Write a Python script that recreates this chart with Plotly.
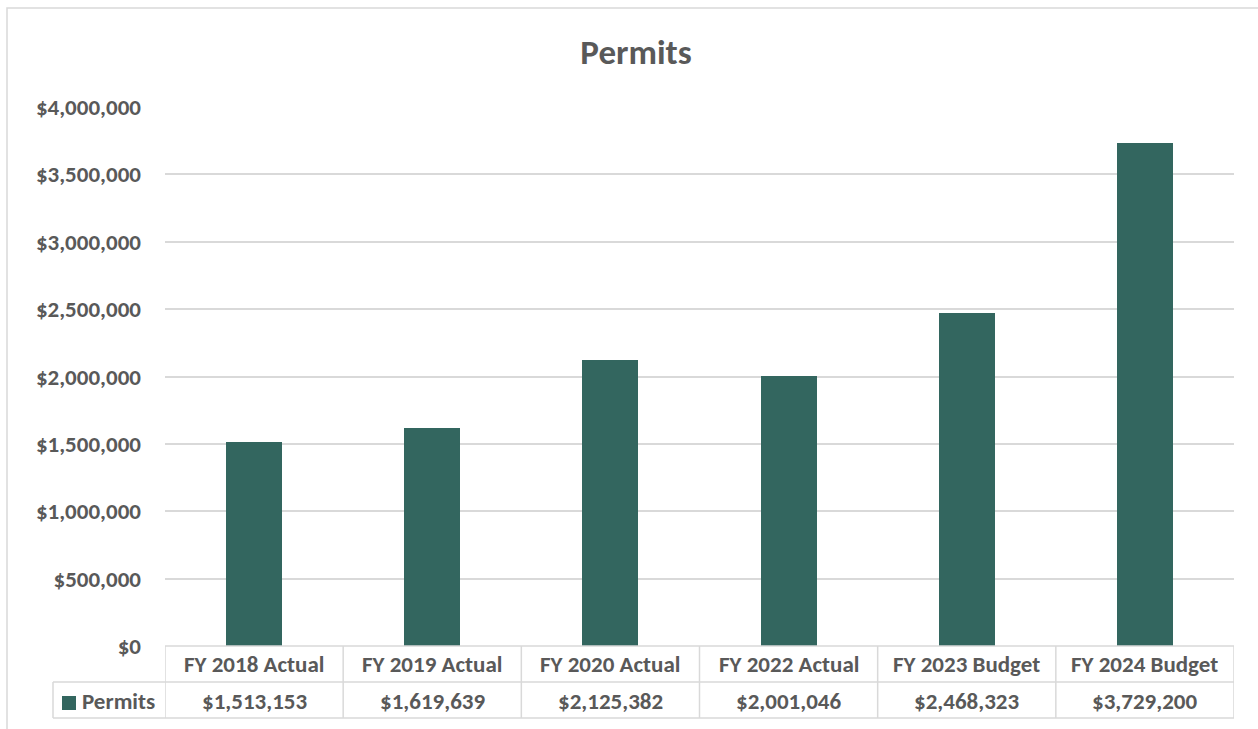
import plotly.graph_objects as go

categories = ["FY 2018 Actual", "FY 2019 Actual", "FY 2020 Actual", "FY 2022 Actual", "FY 2023 Budget", "FY 2024 Budget"]
permits = [1513153, 1619639, 2125382, 2001046, 2468323, 3729200]
series_name = "Permits"
tick_vals = [0, 500000, 1000000, 1500000, 2000000, 2500000, 3000000, 3500000, 4000000]
tick_text = ["$0", "$500,000", "$1,000,000", "$1,500,000", "$2,000,000", "$2,500,000", "$3,000,000", "$3,500,000", "$4,000,000"]

W, H = 1258, 729
BAR = "#33665F"
TXT = "#595959"
GRID = "#D9D9D9"
FONT = "Carlito, Calibri, Lato, sans-serif"
FS = 23

def px(x):
    return x / W

def py(y):
    return 1 - y / H

x0, x1 = 165, 1234
y_top, y_zero = 107, 646

fig = go.Figure()
fig.add_trace(go.Bar(
    x=list(range(len(categories))), y=permits, name=series_name,
    marker=dict(color=BAR, line=dict(width=0)), width=0.315, showlegend=False,
    hoverinfo="skip"))

n = len(categories)
fig.update_layout(
    width=W, height=H, margin=dict(l=0, r=0, t=0, b=0, pad=0),
    paper_bgcolor="white", plot_bgcolor="white", showlegend=False,
    font=dict(family=FONT, color=TXT),
    xaxis=dict(domain=[px(x0), px(x1)], range=[-0.5, n - 0.5], showticklabels=False,
               showgrid=False, zeroline=False, showline=False, fixedrange=True, automargin=False),
    yaxis=dict(domain=[py(y_zero), py(y_top)], range=[0, 4000000], tickvals=tick_vals,
               ticktext=[f"<b>{t}</b>" for t in tick_text], showgrid=True, gridcolor=GRID, gridwidth=1.5,
               zeroline=False, showline=False, ticks="", ticklabelstandoff=23, automargin=False,
               tickfont=dict(family=FONT, size=FS, color=TXT)),
    title=dict(text="<b>Permits</b>", x=px(636), xanchor="center", y=py(52), yanchor="middle",
               automargin=False, font=dict(family=FONT, size=35, color=TXT)),
    bargap=0,
)

shapes = []
line = dict(color=GRID, width=1.5)
# outer chart border
shapes.append(dict(type="rect", xref="paper", yref="paper", x0=px(7), x1=1.02, y0=-0.02, y1=py(8),
                   line=dict(color=GRID, width=1.5), layer="below"))
# table horizontal lines
shapes.append(dict(type="line", xref="paper", yref="paper", x0=px(x0), x1=px(x1), y0=py(646), y1=py(646), line=line))
for yy in (682, 718):
    shapes.append(dict(type="line", xref="paper", yref="paper", x0=px(53), x1=px(x1), y0=py(yy), y1=py(yy), line=line))
# left legend cell vertical
shapes.append(dict(type="line", xref="paper", yref="paper", x0=px(53), x1=px(53), y0=py(682), y1=py(718), line=line))
# category boundaries
for i in range(n + 1):
    shapes.append(dict(type="line", xref="x", yref="paper", x0=i - 0.5, x1=i - 0.5, y0=py(646), y1=py(718), line=line))
# legend swatch
shapes.append(dict(type="rect", xref="paper", yref="paper", x0=px(62), x1=px(76), y0=py(710), y1=py(696),
                   fillcolor=BAR, line=dict(width=0)))
fig.update_layout(shapes=shapes)

ann = []
for i, (c, v) in enumerate(zip(categories, permits)):
    ann.append(dict(x=i, y=py(664), xref="x", yref="paper", text=f"<b>{c}</b>", showarrow=False,
                    xanchor="center", yanchor="middle", font=dict(family=FONT, size=FS, color=TXT)))
    ann.append(dict(x=i, y=py(701), xref="x", yref="paper", text=f"<b>${v:,.0f}</b>", showarrow=False,
                    xanchor="center", yanchor="middle", font=dict(family=FONT, size=FS, color=TXT)))
ann.append(dict(x=px(80), y=py(701), xref="paper", yref="paper", text=f"<b>{series_name}</b>", showarrow=False,
                xanchor="left", yanchor="middle", font=dict(family=FONT, size=FS, color=TXT)))
fig.update_layout(annotations=ann)

fig.write_html("out.html", config={"displayModeBar": False},
               post_script="document.body.style.margin='0';document.body.style.overflow='hidden';")
